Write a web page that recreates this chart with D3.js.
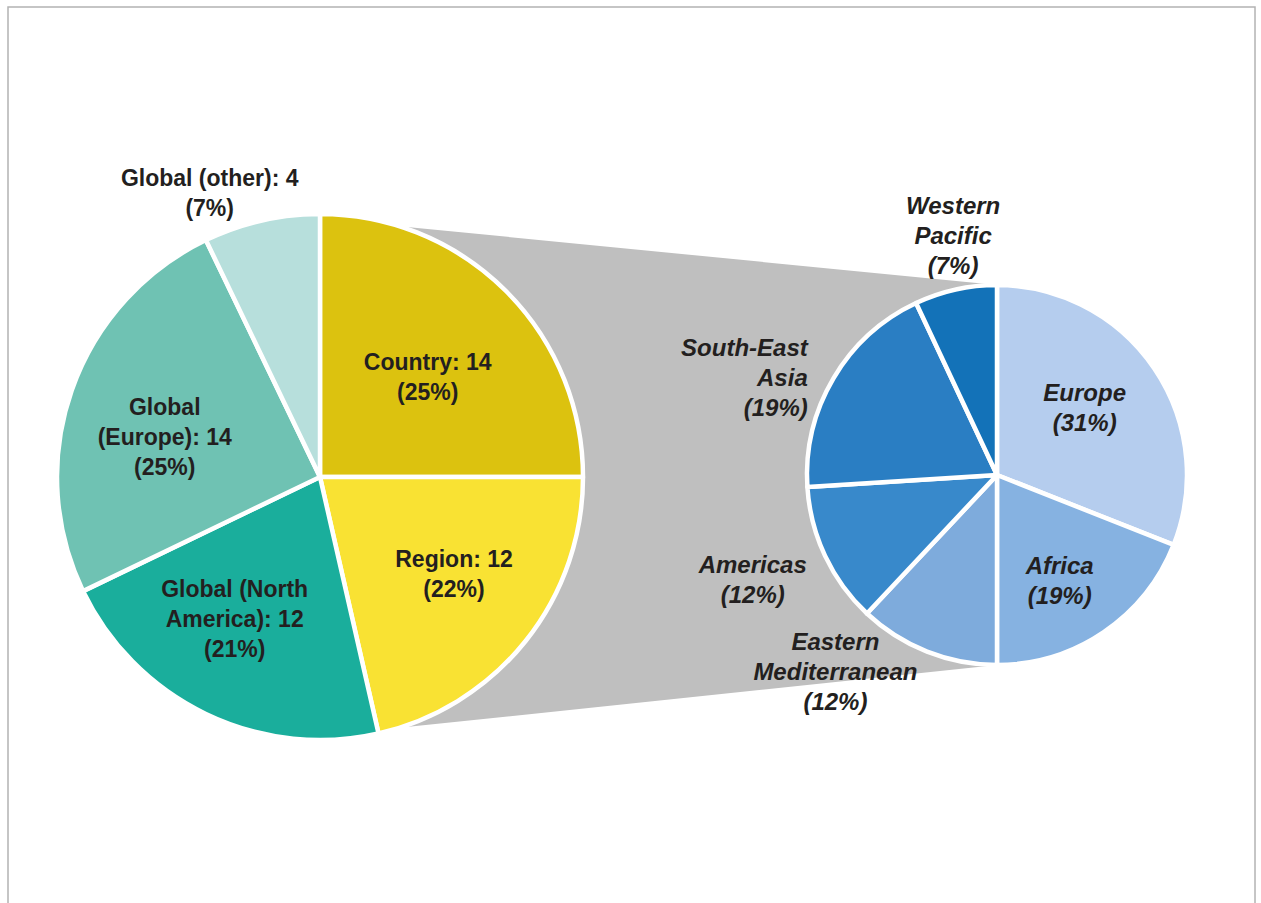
<!DOCTYPE html>
<html>
<head>
<meta charset="utf-8">
<script src="https://cdn.jsdelivr.net/npm/d3@7"></script>
<style>
    html, body { margin: 0; padding: 0; background: #fff; overflow: hidden; }
    .lbl { font-family: "Liberation Sans", Arial, sans-serif; font-weight: bold; font-size: 23px; fill: #231f20; }
    .lbl.it { font-style: italic; font-size: 24px; }
</style>
</head>
<body>
<div id="chart"></div>
<script>
// main pie
const mainCategories = ["Country", "Region", "Global (North America)", "Global (Europe)", "Global (other)"];
const mainValues = [14, 12, 12, 14, 4];
const mainLabels = [
    ["Country: 14", "(25%)"],
    ["Region: 12", "(22%)"],
    ["Global (North", "America): 12", "(21%)"],
    ["Global", "(Europe): 14", "(25%)"],
    ["Global (other): 4", "(7%)"]
];

// breakdown pie (share of Region)
const subCategories = ["Europe", "Africa", "Eastern Mediterranean", "Americas", "South-East Asia", "Western Pacific"];
const subValues = [31, 19, 12, 12, 19, 7];
const subLabels = [
    ["Europe", "(31%)"],
    ["Africa", "(19%)"],
    ["Eastern", "Mediterranean", "(12%)"],
    ["Americas", "(12%)"],
    ["South-East", "Asia", "(19%)"],
    ["Western", "Pacific", "(7%)"]
];

const mainColors = ["#dcc20f", "#f9e233", "#1aae9c", "#6fc2b3", "#b7dfdc"];
const subColors = ["#b5cdee", "#86b2e1", "#7eabdc", "#3889cb", "#2a7ec3", "#1372b8"];

// label placement: [angle in degrees, fraction of radius, anchor]
const mainLabelPos = [[47, 0.56, "middle"], [126, 0.63, "middle"], [211, 0.63, "middle"], [284.6, 0.61, "middle"], [338.8, 1.16, "middle"]];
const subLabelPos = [[52.7, 0.58, "middle"], [149.5, 0.65, "middle"], [219.4, 1.34, "middle"], [246.7, 1.40, "middle"], [297.2, 1.12, "end"], [349.6, 1.28, "middle"]];

const width = 1261, height = 903;
const rad = Math.PI / 180;

const svg = d3.select('#chart').append('svg')
    .attr('width', width)
    .attr('height', height);

// frame
svg.append('rect')
    .attr('x', 8).attr('y', 7)
    .attr('width', 1247).attr('height', 920)
    .attr('fill', 'none')
    .attr('stroke', '#b3b3b3')
    .attr('stroke-width', 1.5);

const mainC = { x: 320, y: 477, r: 263 };
const subC = { x: 997, y: 475, r: 190 };

const pie = d3.pie().sort(null).value(d => d);

// grey connector behind both pies
const lt = d3.pointRadial(17.5 * rad, mainC.r);
const lb = d3.pointRadial(162.5 * rad, mainC.r);
const rt = d3.pointRadial(0, subC.r);
const rb = d3.pointRadial(180 * rad, subC.r);
svg.append('path')
    .attr('d', d3.line()([
        [mainC.x + lt[0], mainC.y + lt[1]],
        [subC.x + rt[0], subC.y + rt[1]],
        [subC.x + rb[0], subC.y + rb[1]],
        [mainC.x + lb[0], mainC.y + lb[1]]
    ]) + 'Z')
    .attr('fill', '#bfbfbf');

function drawPie(c, values, colors, labels, pos, italic) {
    const g = svg.append('g').attr('transform', `translate(${c.x},${c.y})`);
    const arc = d3.arc().innerRadius(0).outerRadius(c.r);

    g.selectAll('path')
        .data(pie(values))
        .join('path')
        .attr('d', arc)
        .attr('fill', (d, i) => colors[i])
        .attr('stroke', '#fff')
        .attr('stroke-width', 4.5)
        .attr('stroke-linejoin', 'round');

    const lineH = 30;
    labels.forEach((lines, i) => {
        const p = d3.pointRadial(pos[i][0] * rad, pos[i][1] * c.r);
        const t = g.append('text')
            .attr('class', italic ? 'lbl it' : 'lbl')
            .attr('text-anchor', pos[i][2]);
        lines.forEach((s, j) => {
            t.append('tspan')
                .attr('x', p[0])
                .attr('y', p[1] + (j - (lines.length - 1) / 2) * lineH + 8)
                .text(s);
        });
    });
}

drawPie(mainC, mainValues, mainColors, mainLabels, mainLabelPos, false);
drawPie(subC, subValues, subColors, subLabels, subLabelPos, true);
</script>
</body>
</html>
